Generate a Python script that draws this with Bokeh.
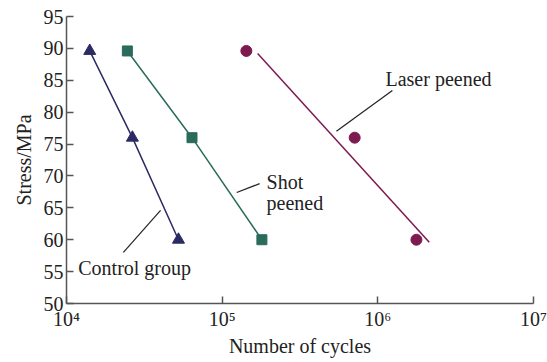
from bokeh.plotting import figure
from bokeh.models import FixedTicker, CustomJSTickFormatter, Label, CustomJS
from bokeh.events import DocumentReady
from bokeh.document import Document
from bokeh.embed import file_html
from bokeh.resources import INLINE

# S-N fatigue data: stress amplitude vs. number of cycles to failure
stress = [89.6, 76, 60]
control_cycles = [1.41e4, 2.65e4, 5.24e4]
shot_cycles = [2.46e4, 6.4e4, 1.8e5]
laser_cycles = [1.43e5, 7.1e5, 1.77e6]

# fitted trend line for the laser peened specimens
laser_fit_cycles = [1.69e5, 2.14e6]
laser_fit_stress = [89.2, 59.6]

y_ticks = [50, 55, 60, 65, 70, 75, 80, 85, 90, 95]
x_ticks = [1e4, 1e5, 1e6, 1e7]

FONT = "'Liberation Serif', 'Times New Roman', serif"
TXT = "#222222"
AXIS = "#555555"
NAVY = "#2c2a62"
TEAL = "#2a6b5c"
WINE = "#7d1a4f"

p = figure(width=547, height=362, x_axis_type="log",
           x_range=(1e4, 1e7), y_range=(50, 95),
           output_backend="svg", toolbar_location=None,
           min_border_left=66, min_border_right=14,
           min_border_top=16, min_border_bottom=59)
p.outline_line_color = None
p.xgrid.visible = False
p.ygrid.visible = False
p.background_fill_color = "white"
p.border_fill_color = "white"

for ax in (p.xaxis[0], p.yaxis[0]):
    ax.axis_line_color = AXIS
    ax.axis_line_width = 1.5
    ax.major_tick_line_color = AXIS
    ax.major_tick_line_width = 1.5
    ax.minor_tick_line_color = None
    ax.major_tick_out = 0
    ax.major_tick_in = 7
    ax.major_label_text_font = FONT
    ax.major_label_text_font_size = "20px"
    ax.major_label_text_color = TXT
    ax.axis_label_text_font = FONT
    ax.axis_label_text_font_size = "20px"
    ax.axis_label_text_font_style = "normal"
    ax.axis_label_text_color = TXT

p.yaxis.ticker = FixedTicker(ticks=y_ticks)
p.yaxis.major_label_standoff = 3
p.yaxis.axis_label = "Stress/MPa"
p.yaxis.axis_label_standoff = 6

p.xaxis.ticker = FixedTicker(ticks=x_ticks)
p.xaxis.formatter = CustomJSTickFormatter(code="""
    const sup = {"0":"\u2070","1":"\u00b9","2":"\u00b2","3":"\u00b3","4":"\u2074",
                 "5":"\u2075","6":"\u2076","7":"\u2077","8":"\u2078","9":"\u2079"};
    const e = String(Math.round(Math.log10(tick)));
    return "10" + e.split("").map(c => sup[c]).join("");
""")
p.xaxis.major_label_standoff = 4
p.xaxis.axis_label = "Number of cycles"
p.xaxis.axis_label_standoff = 2

# control group
p.line(control_cycles, stress, line_color=NAVY, line_width=1.5)
p.scatter(control_cycles, stress, marker="triangle", size=12,
          fill_color=NAVY, line_color=NAVY)

# shot peened
p.line(shot_cycles, stress, line_color=TEAL, line_width=1.5)
p.scatter(shot_cycles, stress, marker="square", size=10,
          fill_color=TEAL, line_color=TEAL)

# laser peened
p.line(laser_fit_cycles, laser_fit_stress, line_color=WINE, line_width=1.5)
p.scatter(laser_cycles, stress, marker="circle", size=11,
          fill_color=WINE, line_color=WINE)

# callout leaders
leaders = [
    ([5.42e5, 1.24e6], [77.0, 83.4]),
    ([1.24e5, 1.74e5], [67.4, 68.8]),
    ([2.32e4, 4.02e4], [58.0, 64.6]),
]
for xs, ys in leaders:
    p.line(xs, ys, line_color=TXT, line_width=1.2)

# callout texts (anchored at their lower-left corner)
labels_x = [1.12e6, 1.93e5, 1.93e5, 1.19e4]
labels_y = [83.4, 67.4, 64.1, 53.9]
labels_t = ["Laser peened", "Shot", "peened", "Control group"]
for lx, ly, lt in zip(labels_x, labels_y, labels_t):
    p.add_layout(Label(x=lx, y=ly, text=lt, text_font=FONT,
                       text_font_size="20px", text_color=TXT))

# repaint once the serif face is available so every text picks it up
redraw = CustomJS(args=dict(p=p), code="""
const kick = () => {
  p.border_fill_color = (p.border_fill_color === "white") ? "#ffffff" : "white";
};
const later = () => { setTimeout(kick, 200); setTimeout(kick, 700); };
if (document.fonts && document.fonts.load) {
  document.fonts.load("20px 'Liberation Serif'").then(later, later);
} else {
  later();
}
""")

doc = Document()
doc.add_root(p)
doc.js_on_event(DocumentReady, redraw)

open("out.html", "w").write(file_html(p, INLINE))
